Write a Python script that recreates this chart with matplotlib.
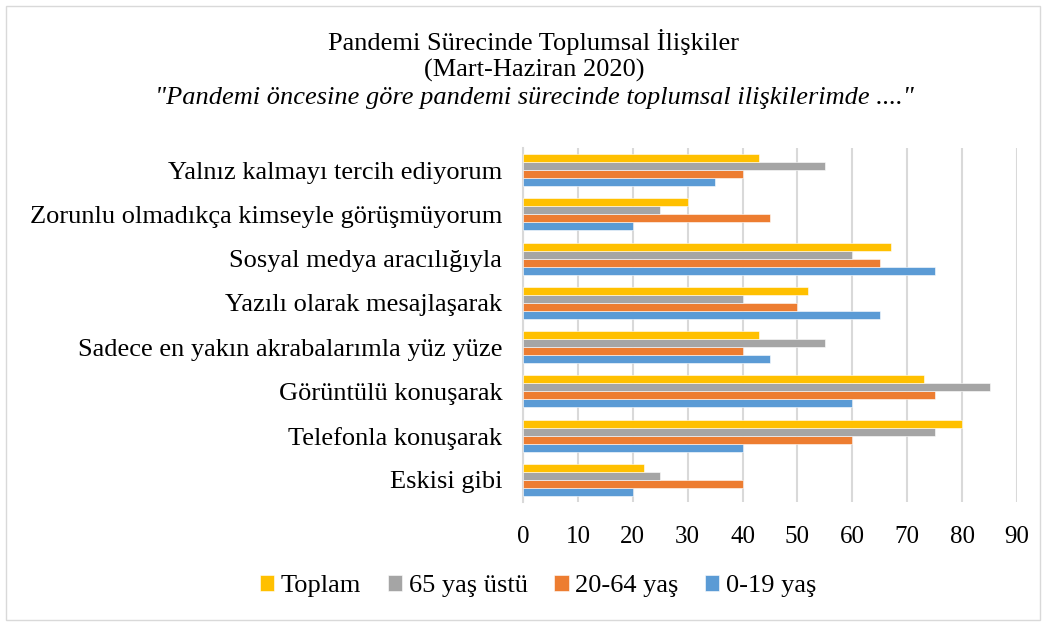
import numpy as np
import matplotlib.pyplot as plt
from matplotlib.patches import Rectangle

plt.rcParams['font.family'] = ['Liberation Serif', 'DejaVu Serif']

categories = ["Yalnız kalmayı tercih ediyorum",
              "Zorunlu olmadıkça kimseyle görüşmüyorum",
              "Sosyal medya aracılığıyla",
              "Yazılı olarak mesajlaşarak",
              "Sadece en yakın akrabalarımla yüz yüze",
              "Görüntülü konuşarak",
              "Telefonla konuşarak",
              "Eskisi gibi"]
toplam = [43, 30, 67, 52, 43, 73, 80, 22]
yas65 = [55, 25, 60, 40, 55, 85, 75, 25]
yas20_64 = [40, 45, 65, 50, 40, 75, 60, 40]
yas0_19 = [35, 20, 75, 65, 45, 60, 40, 20]

series = [("0-19 yaş", yas0_19, "#5b9bd5"),
          ("20-64 yaş", yas20_64, "#ed7d31"),
          ("65 yaş üstü", yas65, "#a5a5a5"),
          ("Toplam", toplam, "#ffc000")]

fig = plt.figure(figsize=(10.47, 6.26), dpi=100)
ax = fig.add_axes([523/1047, 1 - 502/626, (1017-523)/1047, (502-148)/626])

# categories bottom-up
n = len(categories)
y = np.arange(n)[::-1]
h = 0.18
handles = {}
for i, (name, vals, col) in enumerate(series):
    off = (i - 1.5) * h
    b = ax.barh(y + off, vals, height=h, color=col, edgecolor='white', linewidth=0.4, zorder=3)
    handles[name] = b

ax.set_xlim(0, 90)
ax.set_ylim(-0.5, n - 0.5)
ax.set_xticks(range(0, 91, 10))
ax.set_yticks(y)
ax.set_yticklabels(categories, fontsize=19)
ax.tick_params(axis='x', labelsize=18, length=0, pad=17)
ax.tick_params(axis='y', length=0, pad=15)
ax.xaxis.grid(True, color='#d9d9d9', linewidth=1.5, zorder=0)
for s in ['top', 'right', 'bottom']:
    ax.spines[s].set_visible(False)
ax.spines['left'].set_color('#d9d9d9')
ax.spines['left'].set_linewidth(1.5)

cx = 534/1047
fig.text(cx, 1 - 42/626, "Pandemi Sürecinde Toplumsal İlişkiler", ha='center', va='center', fontsize=19)
fig.text(cx, 1 - 70/626, "(Mart-Haziran 2020)", ha='center', va='center', fontsize=19)
fig.text(cx, 1 - 98/626, '"Pandemi öncesine göre pandemi sürecinde toplumsal ilişkilerimde ...."',
         ha='center', va='center', fontsize=19, style='italic')

order = ["Toplam", "65 yaş üstü", "20-64 yaş", "0-19 yaş"]
fig.legend([handles[k] for k in order], order, loc='center', bbox_to_anchor=(538/1047, 1 - 586/626),
           ncol=4, frameon=False, fontsize=19, handlelength=0.55, handleheight=0.55,
           handletextpad=0.25, columnspacing=1.0)

fig.patches.append(Rectangle((6/1047, 6/626), 1034/1047, 614/626, transform=fig.transFigure,
                             fill=False, edgecolor='#d9d9d9', linewidth=1))

fig.savefig("out.png", dpi=100)
